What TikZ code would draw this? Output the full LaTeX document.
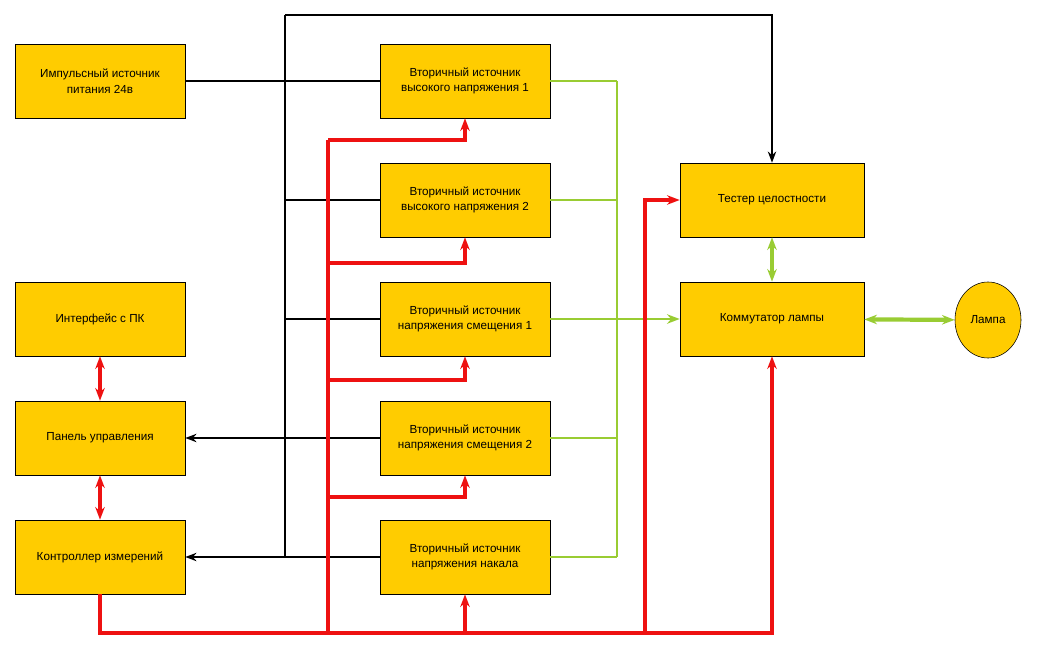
\documentclass[tikz,border=0pt]{standalone}
\usepackage{fontspec}
\setmainfont{Liberation Sans}
\usetikzlibrary{arrows.meta,shapes.geometric}
\definecolor{boxfill}{HTML}{FFCC00}
\definecolor{bus}{HTML}{99CC33}
\definecolor{ctrl}{HTML}{EE1111}
\tikzset{
    blk/.style={draw, fill=boxfill, minimum width=4.25cm, minimum height=1.85cm,
        align=center, font=\fontsize{8.3}{11}\selectfont},
    pw/.style={draw=black, line width=1pt},
    gr/.style={draw=bus, line width=1.2pt},
    rd/.style={draw=ctrl, line width=3pt},
}
\begin{document}
\begin{tikzpicture}[x=0.025cm, y=-0.025cm]
    \useasboundingbox (0,0) rectangle (1040,650);

    % left column
    \node[blk] (psu) at (100,81) {Импульсный источник\\питания 24в};
    \node[blk] (pc) at (100,319) {Интерфейс с ПК};
    \node[blk] (panel) at (100,438) {Панель управления};
    \node[blk] (meas) at (100,557) {Контроллер измерений};

    % secondary sources
    \node[blk] (hv1) at (465,81) {Вторичный источник\\высокого напряжения 1};
    \node[blk] (hv2) at (465,200) {Вторичный источник\\высокого напряжения 2};
    \node[blk] (bias1) at (465,319) {Вторичный источник\\напряжения смещения 1};
    \node[blk] (bias2) at (465,438) {Вторичный источник\\напряжения смещения 2};
    \node[blk] (heat) at (465,557) {Вторичный источник\\напряжения накала};

    % right side
    \node[blk, minimum width=4.6cm] (test) at (772,200) {Тестер целостности};
    \node[blk, minimum width=4.6cm] (switch) at (772,319) {Коммутатор лампы};
    \node[draw, fill=boxfill, ellipse, minimum width=1.65cm, minimum height=1.9cm,
        font=\fontsize{8.3}{11}\selectfont] (lamp) at (988,320) {Лампа};

    \coordinate (top) at (285,15);
    \coordinate (low) at (285,557);

    % power bus
    \draw[pw, line width=1.8pt] (psu.east) -- (hv1.west);
    \draw[pw] (low) -- (top);
    \draw[pw, -{Stealth[length=8pt]}] (top) -| (test.north);
    \draw[pw] (285,200) -- (hv2.west);
    \draw[pw] (285,319) -- (bias1.west);
    \draw[pw, -{Stealth[length=8pt]}] (bias2.west) -- (panel.east);
    \draw[pw, -{Stealth[length=8pt]}] (heat.west) -- (meas.east);

    % output bus
    \foreach \n in {hv1,hv2,bias1,bias2,heat}
        \draw[gr] (\n.east) -- (617,0 |- \n.east);
    \draw[gr] (617,81) -- (617,557);
    \draw[gr, line width=2pt, -{Stealth[length=9pt]}] (617,319) -- (switch.west);
    \draw[gr, line width=3pt, {Stealth[length=9pt]}-{Stealth[length=9pt]}] (test) -- (switch);
    \draw[gr, line width=3pt, {Stealth[length=9pt]}-{Stealth[length=9pt]}] (switch) -- (lamp);

    % control lines
    \draw[rd, {Stealth[length=9pt]}-{Stealth[length=9pt]}] (pc) -- (panel);
    \draw[rd, {Stealth[length=9pt]}-{Stealth[length=9pt]}] (panel) -- (meas);
    \draw[rd, -{Stealth[length=9pt]}] (meas.south) -- (100,633) -| (switch.south);
    \draw[rd, -{Stealth[length=9pt]}] (465,633) -- (heat.south);
    \draw[rd] (328,633) -- (328,140);
    \foreach \n/\y in {hv1/140,hv2/263,bias1/380,bias2/497}
        \draw[rd, -{Stealth[length=9pt]}] (328,\y) -| (\n.south);
    \draw[rd, -{Stealth[length=9pt]}] (645,633) |- (test.west);
\end{tikzpicture}
\end{document}
